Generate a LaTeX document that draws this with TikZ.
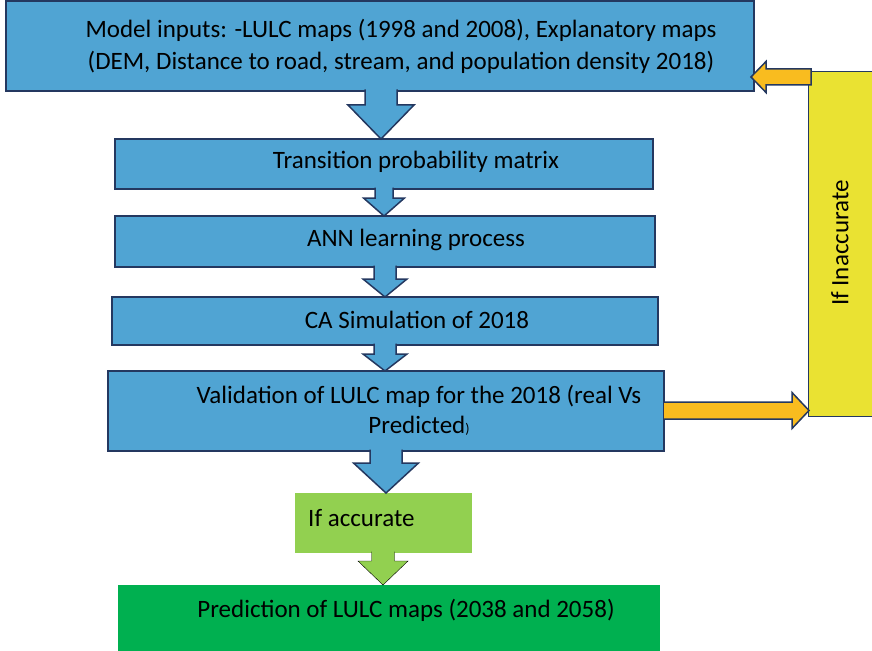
\documentclass[tikz,border=0pt]{standalone}
\usepackage{fontspec}
\setmainfont{Carlito}
\usetikzlibrary{calc}

\definecolor{boxblue}{RGB}{80,164,211}
\definecolor{navy}{RGB}{36,56,96}
\definecolor{arrorange}{RGB}{249,188,31}
\definecolor{sideyellow}{RGB}{234,226,50}
\definecolor{lightgreen}{RGB}{146,208,80}
\definecolor{deepgreen}{RGB}{0,176,80}

\tikzset{
  stage/.style={rectangle, draw=navy, line width=1.6pt, fill=boxblue,
    inner sep=0pt, outer sep=0pt},
  plainbox/.style={rectangle, inner sep=0pt, outer sep=0pt},
  lbl/.style={font=\fontsize{25}{32}\selectfont, align=center, inner sep=0pt},
  bluearrow/.style={draw=navy, line width=1.5pt, fill=boxblue, line join=miter},
  greenarrow/.style={fill=lightgreen},
  sidearrow/.style={draw=navy, line width=1.5pt, fill=arrorange, line join=miter},
}

% downward block arrow: style, from node, to node, x-guide coordinate,
% shaft half width, head half width, head length
\newcommand\downblock[7]{%
  \filldraw[#1]
    ($(#4 |- #2.south)+(-#5,-1.5)$) --
    ($(#4 |- #3.north)+(-#5,-#7)$) --
    ($(#4 |- #3.north)+(-#6,-#7)$) --
    (#4 |- #3.north) --
    ($(#4 |- #3.north)+(#6,-#7)$) --
    ($(#4 |- #3.north)+(#5,-#7)$) --
    ($(#4 |- #2.south)+(#5,-1.5)$);}

\begin{document}
\begin{tikzpicture}[x=1pt,y=-1pt]
  \useasboundingbox (0,0) rectangle (872,650);
  \clip (0,0) rectangle (872,650);

  % process boxes
  \node[stage, minimum width=748, minimum height=90] (inputs) at (380,46) {};
  \node[stage, minimum width=538, minimum height=50] (tpm) at (384,164) {};
  \node[stage, minimum width=540, minimum height=51] (ann) at (385,241.5) {};
  \node[stage, minimum width=546, minimum height=48] (ca) at (385,321) {};
  \node[stage, minimum width=556, minimum height=80] (valid) at (386,411) {};
  \node[plainbox, fill=lightgreen, minimum width=177, minimum height=60] (acc) at (383.5,523) {};
  \node[plainbox, fill=deepgreen, minimum width=542, minimum height=68] (pred) at (389,619) {};

  % labels
  \node[lbl] (tinputs) at (401,46) {Model inputs: -LULC maps (1998 and 2008), Explanatory maps\\(DEM, Distance to road, stream, and population density 2018)};
  \node[lbl] (ttpm) at (416,162) {Transition probability matrix};
  \node[lbl] (tann) at (416,240) {ANN learning process};
  \node[lbl] (tca) at (417,320) {CA Simulation of 2018};
  \node[lbl, font=\fontsize{25}{30}\selectfont] (tvalid) at (419,410) {Validation of LULC map for the 2018 (real Vs\\Predicted{\fontsize{14}{14}\selectfont)}};
  \node[lbl, anchor=west] (tacc) at (308,518) {If accurate};
  \node[lbl] (tpred) at (406,610) {Prediction of LULC maps (2038 and 2058)};

  % guides for the arrow axes
  \coordinate (g1) at (381,0);
  \coordinate (g2) at (384,0);
  \coordinate (g3) at (385,0);
  \coordinate (g5) at (386,0);
  \coordinate (g6) at (383,0);

  % downward flow arrows
  \downblock{bluearrow}{inputs}{tpm}{g1}{16}{33}{34}
  \downblock{bluearrow}{tpm}{ann}{g2}{9}{20.5}{18}
  \downblock{bluearrow}{ann}{ca}{g3}{11}{22}{18}
  \downblock{bluearrow}{ca}{valid}{g3}{11}{22}{17}
  \downblock{bluearrow}{valid}{acc}{g5}{16}{32.5}{30}
  \downblock{greenarrow}{acc}{pred}{g6}{11.5}{25}{24}

  % feedback branch
  \node[plainbox, draw=navy, line width=0.8pt, fill=sideyellow,
        minimum width=66, minimum height=345] (retry) at (841,243.5) {};
  \node[lbl, rotate=90] (tretry) at (840,243) {If Inaccurate};

  \coordinate (ry) at (0,410.5);
  \filldraw[sidearrow]
    ($(ry -| valid.east)+(0,-8.5)$) --
    ($(ry -| retry.west)+(-16,-8.5)$) --
    ($(ry -| retry.west)+(-16,-18)$) --
    ($(ry -| retry.west)+(1,0)$) --
    ($(ry -| retry.west)+(-16,18)$) --
    ($(ry -| retry.west)+(-16,8.5)$) --
    ($(ry -| valid.east)+(0,8.5)$);

  \coordinate (ly) at (0,77);
  \filldraw[sidearrow]
    ($(ly -| retry.west)+(3,-8)$) --
    ($(ly -| inputs.east)+(12,-8)$) --
    ($(ly -| inputs.east)+(12,-15.5)$) --
    ($(ly -| inputs.east)+(-3,0)$) --
    ($(ly -| inputs.east)+(12,15.5)$) --
    ($(ly -| inputs.east)+(12,8)$) --
    ($(ly -| retry.west)+(3,8)$) -- cycle;
\end{tikzpicture}
\end{document}
